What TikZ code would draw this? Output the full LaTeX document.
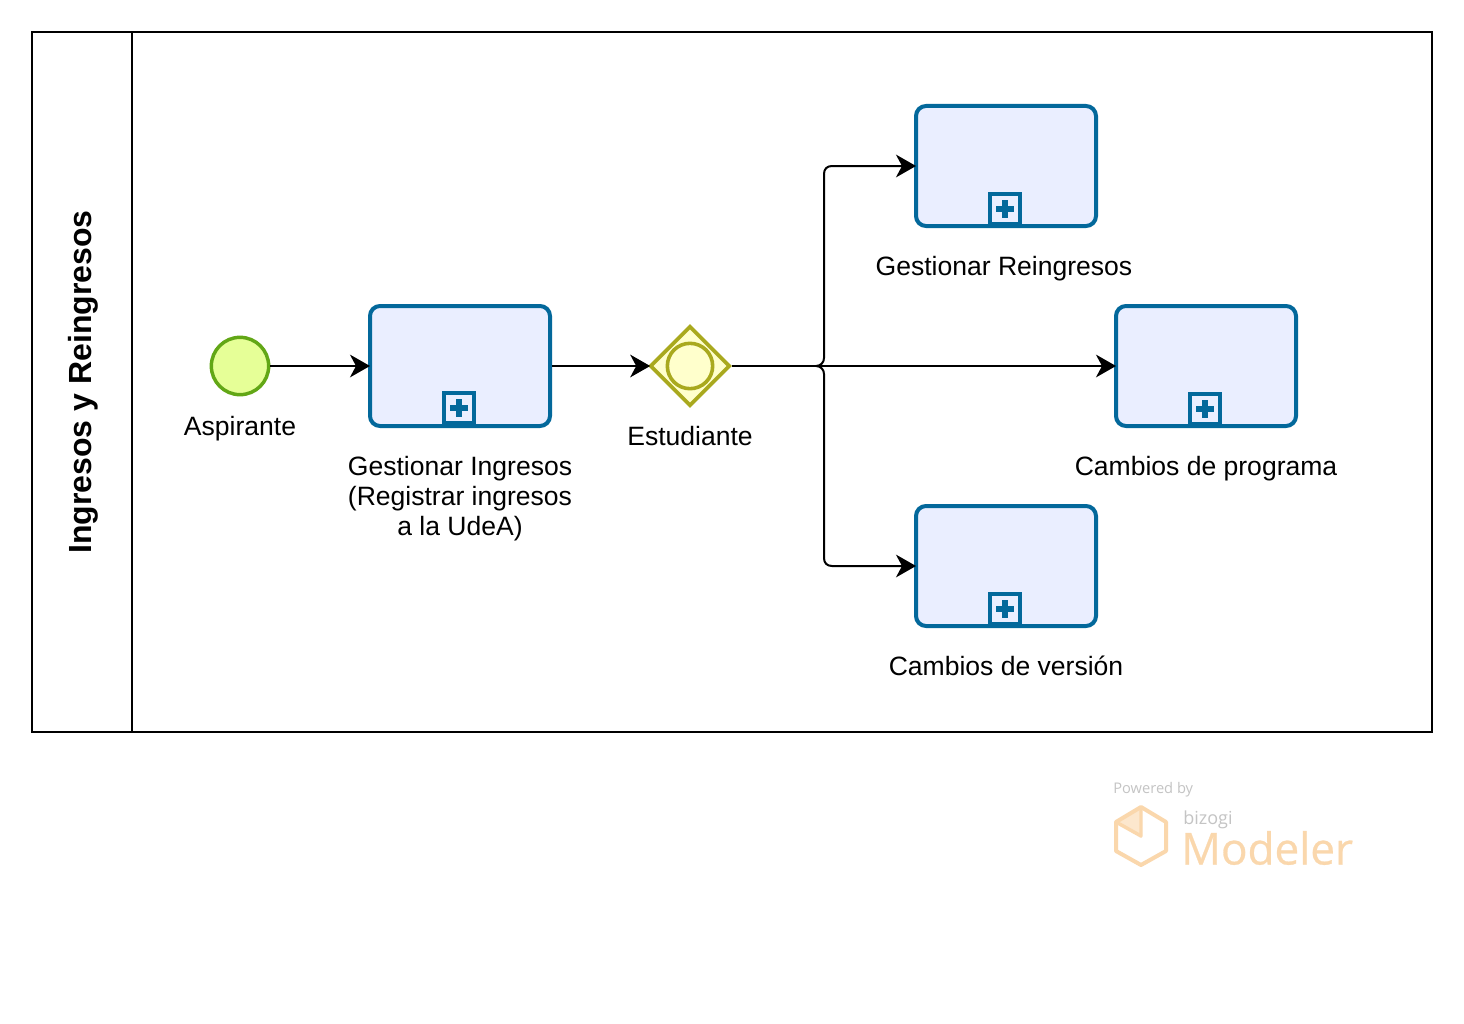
\documentclass[tikz,border=0pt]{standalone}
\usepackage{fontspec}
\setmainfont{Liberation Sans}
\newfontfamily\logofont{Open Sans}
\newfontfamily\logofontheavy[FakeBold=0.6]{Open Sans}
\usetikzlibrary{arrows.meta,shapes.geometric,calc}
\definecolor{taskblue}{HTML}{03689B}
\definecolor{taskfill}{HTML}{EAEEFF}
\definecolor{startgreen}{HTML}{62A716}
\definecolor{startfill}{HTML}{E6FF97}
\definecolor{gateolive}{HTML}{A9A91E}
\definecolor{gatefill}{HTML}{FFFFCC}
\definecolor{logoorange}{HTML}{FAD7AC}
\definecolor{logogray}{HTML}{C4C4C4}
\tikzset{
  x=0.75pt,y=-0.75pt,
  lbl/.style={font=\fontsize{19.9pt}{22.5pt}\selectfont,align=center,inner sep=0pt,text=black},
  taskbox/.style={draw=taskblue,fill=taskfill,line width=3pt,rounded corners=7.5pt,minimum width=135pt,minimum height=90pt,inner sep=0pt},
  plusbox/.style={draw=taskblue,fill=taskfill,line width=3pt,minimum width=22.5pt,minimum height=22.5pt,inner sep=0pt},
  flow/.style={draw=black,line width=1.5pt,-{Stealth[length=15pt,width=17pt,inset=4.5pt]},shorten >=-1.5pt},
  trunk/.style={draw=black,line width=1.5pt},
}
\newcommand{\plusmark}[1]{%
  \fill[taskblue] ($(#1)+(-9,-3)$) rectangle ($(#1)+(9,3)$);
  \fill[taskblue] ($(#1)+(-3,-9)$) rectangle ($(#1)+(3,9)$);
}
\begin{document}
\begin{tikzpicture}
\useasboundingbox (0,0) rectangle (1464,1024);
\fill[white] (0,0) rectangle (1464,1024);
% pool
\node[draw=black,line width=1.5pt,minimum width=1050pt,minimum height=525pt,inner sep=0pt] (pool) at (732,382) {};
\draw[line width=1.5pt] (132,32) coordinate (lanetop) -- (132,732) coordinate (lanebot);
\node[font=\bfseries\fontsize{24pt}{28pt}\selectfont,rotate=90,inner sep=0pt] (pooltitle) at (83,382) {Ingresos y Reingresos};
% start
\node[circle,draw=startgreen,fill=startfill,line width=2.6pt,minimum size=43pt,inner sep=0pt] (start) at (240,366) {};
\node[lbl,anchor=base] (startlbl) at (240,435) {Aspirante};
% tasks
\node[taskbox] (t1) at (460,366) {};
\node[taskbox] (t2) at (1006,166) {};
\node[taskbox] (t3) at (1206,366) {};
\node[taskbox] (t4) at (1006,566) {};
\foreach \n/\px/\py in {p1/459/408,p2/1005/209,p3/1205/409,p4/1005/609}{
  \node[plusbox] (\n) at (\px,\py) {};
  \plusmark{\n}
}
\node[lbl] (t1lbl) at (460,499) {Gestionar Ingresos\\(Registrar ingresos\\a la UdeA)};
\node[lbl,anchor=base] (t2lbl) at (1004,275) {Gestionar Reingresos};
\node[lbl,anchor=base] (t3lbl) at (1206,475) {Cambios de programa};
\node[lbl,anchor=base] (t4lbl) at (1006,675) {Cambios de versión};
% gateway
\node[diamond,draw=gateolive,fill=gatefill,line width=2.7pt,minimum width=60pt,minimum height=60pt,inner sep=0pt,aspect=1] (gw) at (690,366) {};
\node[circle,draw=gateolive,fill=gatefill,line width=2.7pt,minimum size=34pt,inner sep=0pt] (gwc) at (690,366) {};
\node[lbl,anchor=base] (gwlbl) at (690,445) {Estudiante};
% flows
\draw[flow] (start.east) -- (t1.west);
\draw[flow] (t1.east) -- (gw.west);
\draw[flow] (gw.east) -- (t3.west);
\coordinate (jl) at (816,366);
\draw[trunk] (jl) .. controls (821,366) and (824,362) .. (824,358) -- (824,174);
\draw[flow] (824,174) .. controls (824,169) and (827,166) .. (832,166) -- (t2.west);
\draw[trunk] (jl) .. controls (821,366) and (824,370) .. (824,374) -- (824,558);
\draw[flow] (824,558) .. controls (824,563) and (827,566) .. (832,566) -- (t4.west);
% logo
\node[font=\logofont\fontsize{11pt}{12pt}\selectfont,text=logogray,anchor=west,inner sep=0pt] (lg1) at (1113,790) {Powered by};
\node[font=\logofont\fontsize{13.5pt}{15pt}\selectfont,text=logogray,anchor=west,inner sep=0pt] (lg2) at (1183,820) {bizogi};
\node[font=\logofontheavy\fontsize{33pt}{36pt}\selectfont,text=logoorange,anchor=west,inner sep=0pt] (lg3) at (1181,848) {Modeler};
\fill[logoorange!60] (1141,808) -- (1116,822) -- (1141,836) -- cycle;
\draw[logoorange,line width=3pt,line join=round] (1141,807) -- (1166,822) -- (1166,851) -- (1141,865) -- (1116,851) -- (1116,822) -- cycle;
\draw[logoorange,line width=2.6pt,line join=round] (1116,822) -- (1141,836) -- (1141,807);
\end{tikzpicture}
\end{document}
